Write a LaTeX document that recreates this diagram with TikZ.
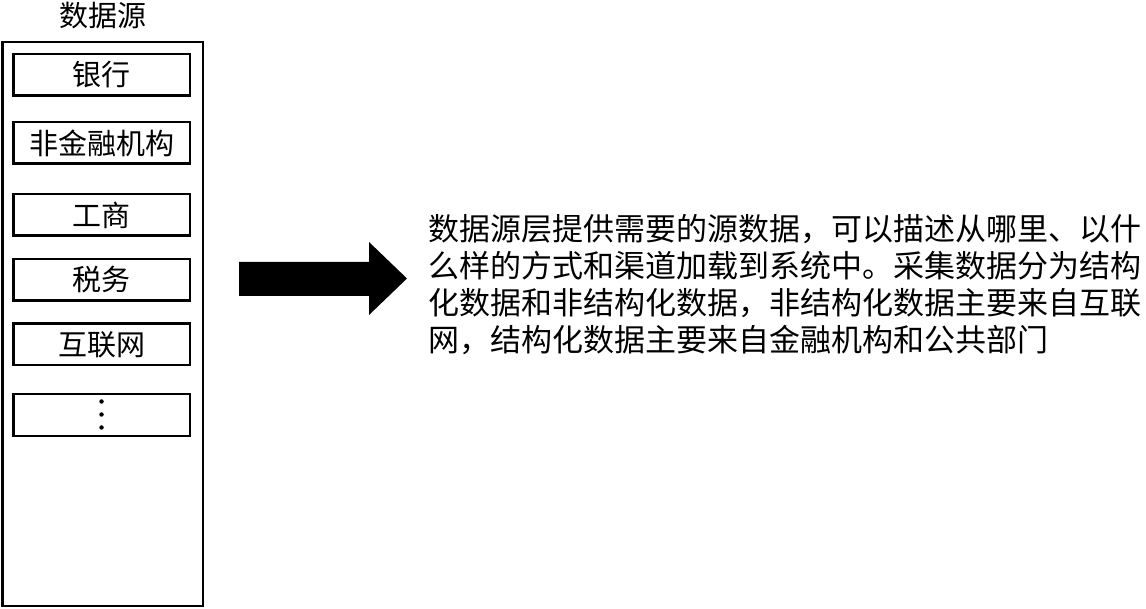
\documentclass[tikz,border=0pt]{standalone}
\usepackage{fontspec}
\setmainfont{Noto Sans CJK SC}
\begin{document}
\begin{tikzpicture}[x=1pt,y=-1pt,
  srcbox/.style={draw, line width=2.5pt, minimum width=176.5pt, minimum height=41.5pt, inner sep=0pt, font=\fontsize{29}{34}\selectfont},
  outerbox/.style={draw, line width=2.5pt, minimum width=200.5pt, minimum height=563.5pt, inner sep=0pt},
  titletext/.style={font=\fontsize{29}{34}\selectfont, inner sep=0pt},
  dot/.style={circle, fill, inner sep=0pt, minimum size=4.5pt},
  para/.style={font=\fontsize{31}{37}\selectfont, inner sep=0pt, anchor=base west}]
\useasboundingbox (0,0) rectangle (1146,609);
\node[titletext] (title) at (103,16) {数据源};
\node[outerbox] (outer) at (102.5,324) {};
\node[srcbox] (b1) at (101.5,75) {银行};
\node[srcbox] (b2) at (101.5,143) {非金融机构};
\node[srcbox] (b3) at (101.5,215) {工商};
\node[srcbox] (b4) at (101.5,280) {税务};
\node[srcbox] (b5) at (101.5,344.5) {互联网};
\node[srcbox] (b6) at (101.5,415) {};
\node[dot] (d1) at (101.5,401.5) {};
\node[dot] (d2) at (101.5,414.5) {};
\node[dot] (d3) at (101.5,427.5) {};
\fill (239,262) -- (369,262) -- (369,242) -- (407,278.5) -- (369,315) -- (369,296) -- (239,296) -- cycle;
\node[para] (l1) at (428,241) {数据源层提供需要的源数据，可以描述从哪里、以什};
\node[para] (l2) at (428,278) {么样的方式和渠道加载到系统中。采集数据分为结构};
\node[para] (l3) at (428,315) {化数据和非结构化数据，非结构化数据主要来自互联};
\node[para] (l4) at (428,352) {网，结构化数据主要来自金融机构和公共部门};
\end{tikzpicture}
\end{document}
